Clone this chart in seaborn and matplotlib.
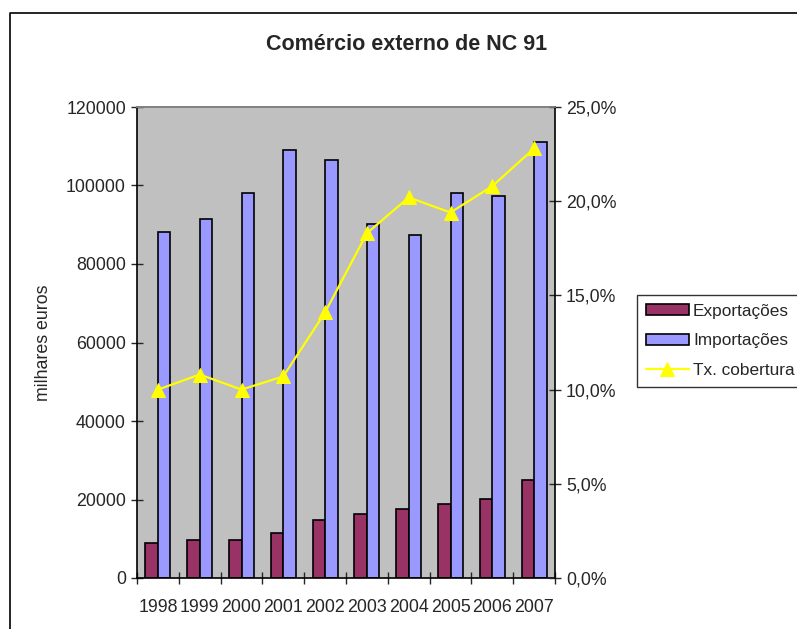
import numpy as np
import pandas as pd
import matplotlib
matplotlib.use("Agg")
import matplotlib.pyplot as plt
from matplotlib.lines import Line2D
from matplotlib.ticker import FuncFormatter, FixedLocator
import seaborn as sns

# Foreign trade of NC 91 (thousand euros) and export/import coverage rate
years = ["1998", "1999", "2000", "2001", "2002", "2003", "2004", "2005", "2006", "2007"]
exportacoes = [9000, 9700, 9700, 11500, 14700, 16400, 17600, 18900, 20100, 25000]
importacoes = [88200, 91500, 98200, 109000, 106500, 90200, 87300, 98200, 97300, 111000]
cobertura = [0.100, 0.108, 0.100, 0.107, 0.141, 0.183, 0.202, 0.194, 0.208, 0.228]

series_names = ["Exportações", "Importações"]
line_name = "Tx. cobertura"

df = pd.DataFrame({
    "ano": years * 2,
    "serie": [series_names[0]] * len(years) + [series_names[1]] * len(years),
    "valor": exportacoes + importacoes,
})

sns.set_style("white")
plt.rcParams["font.family"] = ["Liberation Sans", "DejaVu Sans"]

FS = 12.8
W, H = 797, 629
fig = plt.figure(figsize=(W / 100, H / 100), dpi=100)
fig.patch.set_facecolor("white")

left, right, top, bottom = 137, 555, 107, 578
ax = fig.add_axes([left / W, 1 - bottom / H, (right - left) / W, (bottom - top) / H])
ax.set_facecolor("#C0C0C0")

sns.barplot(data=df, x="ano", y="valor", hue="serie", order=years,
            hue_order=series_names, palette=["#993366", "#9999FF"],
            width=0.6, gap=0, edgecolor="black", linewidth=1.2,
            saturation=1, ax=ax)

ax.set_xlim(-0.5, len(years) - 0.5)
ax.set_ylim(0, 120000)
ax.set_yticks(np.arange(0, 120001, 20000))
ax.yaxis.set_major_formatter(FuncFormatter(lambda v, p: f"{int(v)}"))
ax.set_xlabel("")
ax.set_ylabel("milhares euros", fontsize=FS, labelpad=10)
ax.tick_params(axis="y", direction="inout", length=8, width=1, labelsize=FS,
               left=True, pad=4)
ax.tick_params(axis="x", which="major", length=0, labelsize=FS, pad=15)
ax.xaxis.set_minor_locator(FixedLocator(np.arange(-0.5, len(years), 1.0)))
ax.tick_params(axis="x", which="minor", direction="inout", length=8, width=1,
               bottom=True)
for lbl in ax.get_xticklabels():
    lbl.set_fontsize(FS)

for side in ("left", "bottom"):
    ax.spines[side].set_color("black")
    ax.spines[side].set_linewidth(1.2)
ax.spines["top"].set_color("#808080")
ax.spines["top"].set_linewidth(1.2)
ax.spines["right"].set_visible(False)

handles, labels = ax.get_legend_handles_labels()
if ax.get_legend() is not None:
    ax.get_legend().remove()

ax2 = ax.twinx()
ax2.set_facecolor("none")
sns.lineplot(x=np.arange(len(years)), y=cobertura, color="#FFFF00",
             marker="^", markersize=10, markeredgecolor="#FFFF00",
             linewidth=1.6, ax=ax2, label=line_name)
ax2.set_ylim(0, 0.25)
ax2.set_yticks(np.arange(0, 0.2501, 0.05))
ax2.yaxis.set_major_formatter(
    FuncFormatter(lambda v, p: f"{v * 100:.1f}%".replace(".", ",")))
ax2.tick_params(axis="y", direction="inout", length=8, width=1, labelsize=FS,
                right=True, pad=4)
ax2.set_ylabel("")
ax2.spines["right"].set_color("black")
ax2.spines["right"].set_linewidth(1.2)
ax2.spines["left"].set_visible(False)
ax2.spines["bottom"].set_visible(False)
ax2.spines["top"].set_color("#808080")
ax2.spines["top"].set_linewidth(1.2)

h2, l2 = ax2.get_legend_handles_labels()
if ax2.get_legend() is not None:
    ax2.get_legend().remove()

leg = fig.legend(handles + h2, labels + l2, loc="upper left",
                 bbox_to_anchor=(637 / W, 1 - 295 / H), fontsize=12.4,
                 frameon=True, fancybox=False, edgecolor="black",
                 handlelength=2.5, handleheight=0.6, handletextpad=0.25,
                 labelspacing=0.85, borderpad=0.5, borderaxespad=0)
leg.get_frame().set_linewidth(1.0)

fig.text(407 / W, 1 - 45 / H, "Comércio externo de NC 91", ha="center",
         va="center", fontsize=15.5, fontweight="bold")

# outer chart frame
fig.add_artist(Line2D([10 / W, 10 / W, 1.0], [0.0, 1 - 13 / H, 1 - 13 / H],
                      transform=fig.transFigure, color="black", linewidth=1.2))

fig.savefig("out.png", dpi=100)
